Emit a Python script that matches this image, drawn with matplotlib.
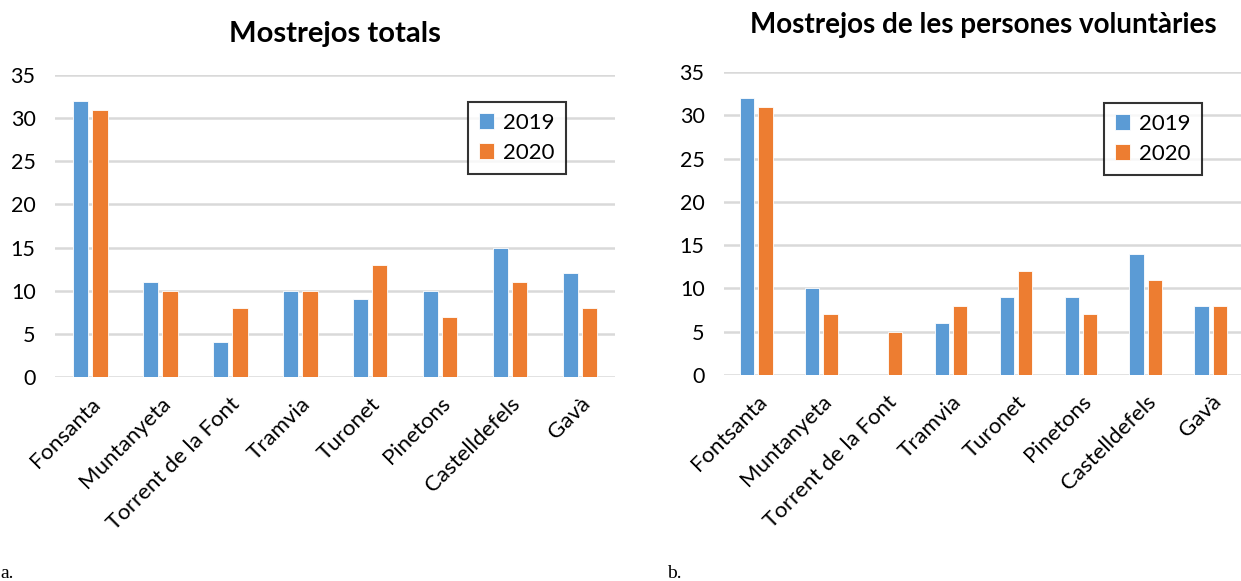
import numpy as np
from matplotlib import pyplot as plt

# panel a: mostrejos totals
llocs_a = ["Fonsanta", "Muntanyeta", "Torrent de la Font", "Tramvia",
           "Turonet", "Pinetons", "Castelldefels", "Gavà"]
totals_2019 = [32, 11, 4, 10, 9, 10, 15, 12]
totals_2020 = [31, 10, 8, 10, 13, 7, 11, 8]

# panel b: mostrejos de les persones voluntàries
llocs_b = ["Fontsanta", "Muntanyeta", "Torrent de la Font", "Tramvia",
           "Turonet", "Pinetons", "Castelldefels", "Gavà"]
volunt_2019 = [32, 10, 0, 6, 9, 9, 14, 8]
volunt_2020 = [31, 7, 5, 8, 12, 7, 11, 8]

anys = ["2019", "2020"]
colors = ["#5B9BD5", "#ED7D31"]
font = "Lato"

W, H = 1241, 581
fig = plt.figure(figsize=(W / 100, H / 100), dpi=100)


def px_axes(x0, x1, y_top, y_bottom):
    # pixel box (from the top-left corner) -> figure fraction
    return fig.add_axes([x0 / W, (H - y_bottom) / H, (x1 - x0) / W, (y_bottom - y_top) / H])


def bar_panel(ax, labels, v19, v20, title, title_size, title_pad, legend_anchor):
    x = np.arange(len(labels))
    w = 0.22
    ax.bar(x - 0.14, v19, w, color=colors[0], label=anys[0], edgecolor="white", linewidth=0.6)
    ax.bar(x + 0.14, v20, w, color=colors[1], label=anys[1], edgecolor="white", linewidth=0.6)
    ax.set_xlim(-0.5, len(labels) - 0.5)
    ax.set_ylim(0, 35)
    ax.set_yticks(range(0, 36, 5))
    ax.grid(axis="y", color="#d9d9d9", linewidth=1.8)
    ax.set_axisbelow(True)
    for s in ax.spines.values():
        s.set_visible(False)
    ax.tick_params(axis="y", length=0, pad=14, labelsize=15.5)
    ax.tick_params(axis="x", length=0, pad=12)
    for t in ax.get_yticklabels():
        t.set_family(font)
    ax.set_xticks(x)
    ax.set_xticklabels(labels, rotation=45, ha="right", rotation_mode="anchor",
                       fontsize=16, family=font)
    ax.set_title(title, fontsize=title_size, fontweight="bold", family=font, pad=title_pad)
    leg = ax.legend(loc="upper right", bbox_to_anchor=legend_anchor, frameon=True,
                    fancybox=False, edgecolor="black", prop={"family": font, "size": 16},
                    handlelength=0.7, handleheight=0.7, handletextpad=0.4,
                    borderpad=0.5, labelspacing=0.45, borderaxespad=0)
    leg.get_frame().set_linewidth(1.5)


ax_a = px_axes(55, 615, 75, 377)
bar_panel(ax_a, llocs_a, totals_2019, totals_2020, "Mostrejos totals", 21, 24,
          (0.9125, 0.911))

ax_b = px_axes(724, 1243, 72, 375)
bar_panel(ax_b, llocs_b, volunt_2019, volunt_2020,
          "Mostrejos de les persones voluntàries", 20, 28, (0.921, 0.898))

fig.text(0 / W, 1 - 578 / H, "a.", family="Liberation Serif", fontsize=14)
fig.text(667 / W, 1 - 578 / H, "b.", family="Liberation Serif", fontsize=14)

fig.savefig("out.png", dpi=100)
